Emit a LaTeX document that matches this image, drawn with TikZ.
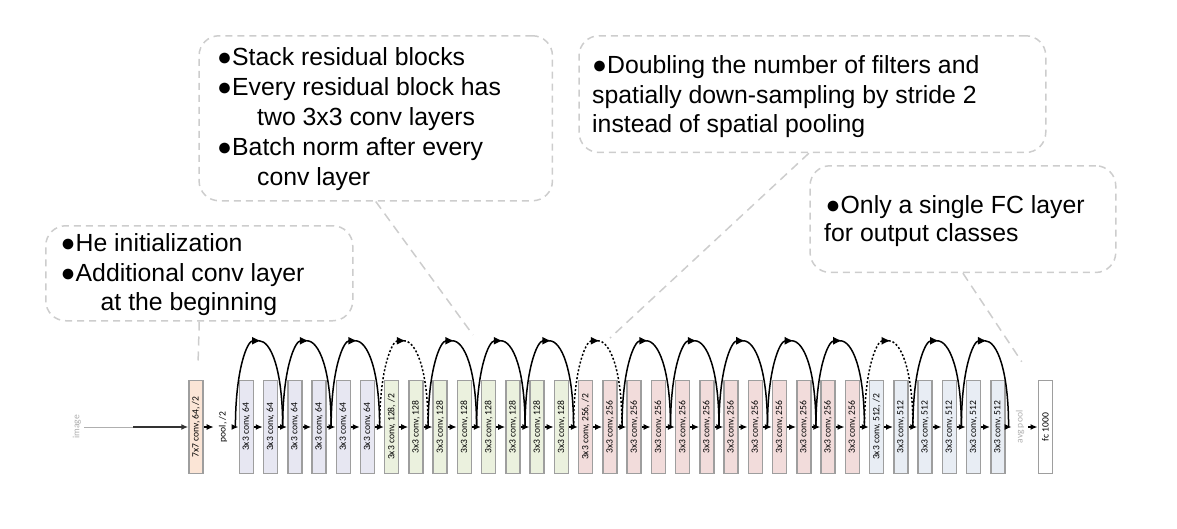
\documentclass[tikz,border=0pt]{standalone}
\usepackage{fontspec}
\usepackage{graphicx}
\setmainfont{Liberation Sans}
\newfontfamily\boxfont{Carlito}
\usetikzlibrary{arrows.meta,decorations.markings,calc}

\definecolor{c77}{RGB}{251,229,214}
\definecolor{c64}{RGB}{231,231,242}
\definecolor{c128}{RGB}{235,241,222}
\definecolor{c256}{RGB}{242,220,219}
\definecolor{c512}{RGB}{232,237,244}
\definecolor{bord}{RGB}{158,158,158}
\definecolor{dashgray}{RGB}{205,205,205}
\definecolor{lightlab}{RGB}{175,175,175}

\begin{document}
\begin{tikzpicture}[x=1pt,y=-1pt,
  layer/.style={draw=bord, line width=1.5pt, minimum width=14pt, minimum height=93pt, inner sep=0pt, font=\boxfont\fontsize{9.6}{10}\selectfont, text=black},
  flow/.style={line width=1.5pt, -{Latex[length=7pt,width=6pt]}},
  skiparc/.style={line width=1.5pt},
  apextip/.style={line width=1.5pt, -{Latex[length=9pt,width=8pt]}},
  dotted2/.style={dash pattern=on 2pt off 2pt},
  callout/.style={draw=dashgray, line width=1.5pt, dash pattern=on 7pt off 5pt, rounded corners=20pt, inner sep=0pt, anchor=north west},
  leader/.style={draw=dashgray, line width=1.5pt, dash pattern=on 9pt off 6pt},
  bullettext/.style={anchor=base west, inner sep=0pt, font=\fontsize{24.8}{29}\selectfont},
  sidelab/.style={inner sep=0pt, font=\boxfont\fontsize{9.6}{10}\selectfont}
]
\useasboundingbox (0,0) rectangle (1177,528);

% callouts
\node[callout, minimum width=307pt, minimum height=95pt] (c1) at (45,225) {};
\node[callout, minimum width=353.4pt, minimum height=165pt] (c2) at (198.3,35) {};
\node[callout, minimum width=466.7pt, minimum height=116.7pt] (c3) at (578.3,35) {};
\node[callout, minimum width=305.7pt, minimum height=106.7pt] (c4) at (809.3,165) {};

\node[bullettext] (t11) at (60.5,251.7) {●He initialization};
\node[bullettext] (t12) at (60.5,281.7) {●Additional conv layer};
\node[bullettext] (t13) at (100.5,310) {at the beginning};

\node[bullettext] (t21) at (217,65.7) {●Stack residual blocks};
\node[bullettext] (t22) at (217,95.5) {●Every residual block has};
\node[bullettext] (t23) at (257,125.5) {two 3x3 conv layers};
\node[bullettext] (t24) at (217,155.5) {●Batch norm after every};
\node[bullettext] (t25) at (257,185.5) {conv layer};

\node[bullettext] (t31) at (592,73.3) {●Doubling the number of filters and};
\node[bullettext] (t32) at (592,103) {spatially down-sampling by stride 2};
\node[bullettext] (t33) at (592,132) {instead of spatial pooling};

\node[bullettext] (t41) at (825.5,213.3) {●Only a single FC layer};
\node[bullettext] (t42) at (824,241.7) {for output classes};

% layers
\node[sidelab, text=lightlab, inner xsep=3pt] (img) at (77,427) {\rotatebox{90}{image}};
\node[layer, fill=c77] (b0) at (196,427) {\rotatebox{90}{7x7 conv, 64, /2}};
\node[sidelab, inner xsep=5pt] (pool) at (223,427) {\rotatebox{90}{pool, /2}};
\foreach \i in {1,...,6}
  \node[layer, fill=c64] (b\i) at ({246.3+24.24*(\i-1)},427) {\rotatebox{90}{3x3 conv, 64}};
\node[layer, fill=c128] (b7) at ({246.3+24.24*6},427) {\rotatebox{90}{3x3 conv, 128, /2}};
\foreach \i in {8,...,14}
  \node[layer, fill=c128] (b\i) at ({246.3+24.24*(\i-1)},427) {\rotatebox{90}{3x3 conv, 128}};
\node[layer, fill=c256] (b15) at ({246.3+24.24*14},427) {\rotatebox{90}{3x3 conv, 256, /2}};
\foreach \i in {16,...,26}
  \node[layer, fill=c256] (b\i) at ({246.3+24.24*(\i-1)},427) {\rotatebox{90}{3x3 conv, 256}};
\node[layer, fill=c512] (b27) at ({246.3+24.24*26},427) {\rotatebox{90}{3x3 conv, 512, /2}};
\foreach \i in {28,...,32}
  \node[layer, fill=c512] (b\i) at ({246.3+24.24*(\i-1)},427) {\rotatebox{90}{3x3 conv, 512}};
\node[sidelab, text=lightlab, inner xsep=4pt] (avg) at (1020,427) {\rotatebox{90}{avg pool}};
\node[layer, fill=white] (fc) at (1045.3,427) {\rotatebox{90}{fc 1000}};

% main flow
\coordinate (imgmid) at (133,427);
\draw[draw=lightlab, line width=1pt] (img.east) -- (imgmid);
\draw[flow, draw=black!80, line width=2pt] (imgmid) -- (b0.west);
\draw[flow] (b0.east) -- (pool.west);
\draw[flow] (pool.east) -- (b1.west);
\foreach \i [evaluate=\i as \j using int(\i+1)] in {1,...,31}
  \draw[flow] (b\i.east) -- (b\j.west);
\draw[flow] (b32.east) -- (avg.west);
\draw[flow] (avg.east) -- (fc.west);

% junctions
\coordinate (j0) at ($(pool.east)!0.5!(b1.west)$);
\foreach \k [evaluate=\k as \n using int(\k+1)] in {1,...,31}
  \coordinate (j\k) at ($(b\k.east)!0.5!(b\n.west)$);
\coordinate (j32) at ($(b32.east)!0.5!(avg.west)$);

% shortcut arcs: each arc is split at its apex; first half carries the arrow tip
\foreach \k/\st [evaluate=\k as \a using int(2*\k), evaluate=\k as \b using int(2*\k+2)] in
  {0/solid,1/solid,2/solid,3/dotted2,4/solid,5/solid,6/solid,7/dotted2,8/solid,9/solid,10/solid,11/solid,12/solid,13/dotted2,14/solid,15/solid}
{
  \coordinate (q1) at ($(j\a)+(0,-57.5)$);
  \coordinate (q2) at ($(j\a)!0.25!(j\b)+(0,-86.25)$);
  \coordinate (apx\k) at ($(j\a)!0.5!(j\b)+(0,-86.25)$);
  \coordinate (q3) at ($(j\a)!0.75!(j\b)+(0,-86.25)$);
  \coordinate (q4) at ($(j\b)+(0,-57.5)$);
  \draw[skiparc, \st] (apx\k) .. controls (q3) and (q4) .. (j\b);
  \draw[apextip, \st] (j\a) .. controls (q1) and (q2) .. ([xshift=2pt]apx\k);
}

% leaders
\coordinate (l1) at (198,365);
\coordinate (l2) at (473,335);
\coordinate (l3) at (610,338);
\coordinate (l4) at (1021.7,361.7);
\draw[leader] (c1.south) -- (l1);
\draw[leader] (c2.south) -- (l2);
\draw[leader] ($(c3.south)+(-3.5,0)$) -- (l3);
\draw[leader] (c4.south) -- (l4);
\end{tikzpicture}
\end{document}
